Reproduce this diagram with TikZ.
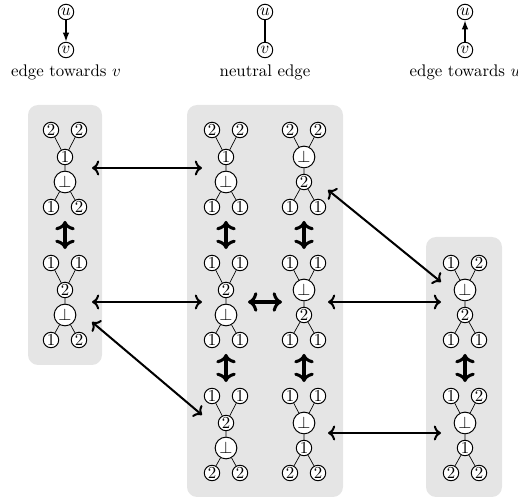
\documentclass[tikz,border=0pt]{standalone}
\usepackage{amsmath,amssymb}
\usepackage{tikz}
\usetikzlibrary{calc}
\usetikzlibrary{arrows.meta}
\newcommand{\tree}[9]{%
  \node[sm] (#1-tl) at (#2-14,#3) {#4};
  \node[sm] (#1-tr) at (#2+14,#3) {#5};
  \node[sm] (#1-n) at (#2,#3+27+25*#9) {#6};
  \node[big] (#1-p) at (#2,#3+52-25*#9) {$\bot$};
  \node[sm] (#1-bl) at (#2-14,#3+77) {#7};
  \node[sm] (#1-br) at (#2+14,#3+77) {#8};
  \ifnum#9=0 \def\tup{#1-n}\def\tlo{#1-p}\else\def\tup{#1-p}\def\tlo{#1-n}\fi
  \draw[twig] (#1-tl) -- (\tup) -- (#1-tr) (\tup) -- (\tlo) (#1-bl) -- (\tlo) -- (#1-br);}

\begin{document}
\begin{tikzpicture}[x=0.595pt,y=-0.595pt,
    sm/.style={circle,draw,semithick,fill=white,inner sep=0pt,minimum size=9.2pt},
    big/.style={sm,minimum size=12.9pt},
    twig/.style={thin},
    panel/.style={fill=gray!20,rounded corners=6pt},
    legend/.style={line width=0.9pt},
    dir/.style={legend,-{Latex[length=5.5pt,width=4pt]}},
    hop/.style={<->,line width=1.2pt},
    rotarr/.style={<->,line width=1.8pt}]
    \useasboundingbox (0,0) rectangle (518,502);
    %legend
    \node[sm] (u1) at (66,12) {$u$};
    \node[sm] (v1) at (66,50) {$v$};
    \node (t1) at (66,72) {edge towards $v$};
    \draw[dir] (u1) -- (v1);
    \node[sm] (u2) at (265,12) {$u$};
    \node[sm] (v2) at (265,50) {$v$};
    \node (t2) at (265,72) {neutral edge};
    \draw[legend] (u2) -- (v2);
    \node[sm] (u3) at (465,12) {$u$};
    \node[sm] (v3) at (465,50) {$v$};
    \node (t3) at (465,72) {edge towards $u$};
    \draw[dir] (v3) -- (u3);
    %panels
    \fill[panel] (28,105) rectangle (102,365);
    \fill[panel] (187,105) rectangle (343,497);
    \fill[panel] (426,237) rectangle (502,497);
    %trees
    \tree{A}{65}{130}{2}{2}{1}{1}{2}{0}
    \tree{B}{65}{263}{1}{1}{2}{1}{2}{0}
    \tree{L1}{226}{130}{2}{2}{1}{1}{1}{0}
    \tree{L2}{226}{263}{1}{1}{2}{1}{1}{0}
    \tree{L3}{226}{396}{1}{1}{2}{2}{2}{0}
    \tree{R1}{304}{130}{2}{2}{2}{1}{1}{1}
    \tree{R2}{304}{263}{1}{1}{2}{1}{1}{1}
    \tree{R3}{304}{396}{1}{1}{1}{2}{2}{1}
    \tree{C}{465}{263}{1}{2}{2}{1}{1}{1}
    \tree{D}{465}{396}{1}{2}{1}{2}{2}{1}
    %moves
    \foreach \a/\b in {A/B, L1/L2, L2/L3, R1/R2, R2/R3, C/D}
        \draw[rotarr,shorten <=8.3pt,shorten >=8.3pt] ($(\a-bl)!.5!(\a-br)$) -- ($(\b-tl)!.5!(\b-tr)$);
    \coordinate (p1) at (92,168);  \coordinate (q1) at (202,168);
    \coordinate (p2) at (92,302);  \coordinate (q2) at (202,302);
    \coordinate (p3) at (92,322);  \coordinate (q3) at (202,415);
    \coordinate (p4) at (328,190); \coordinate (q4) at (441,282);
    \coordinate (p5) at (328,302); \coordinate (q5) at (441,302);
    \coordinate (p6) at (328,433); \coordinate (q6) at (441,433);
    \coordinate (p7) at (248,302); \coordinate (q7) at (282,302);
    \foreach \i in {1,...,6}
        \draw[hop] (p\i) -- (q\i);
    \draw[rotarr] (p7) -- (q7);
\end{tikzpicture}
\end{document}
